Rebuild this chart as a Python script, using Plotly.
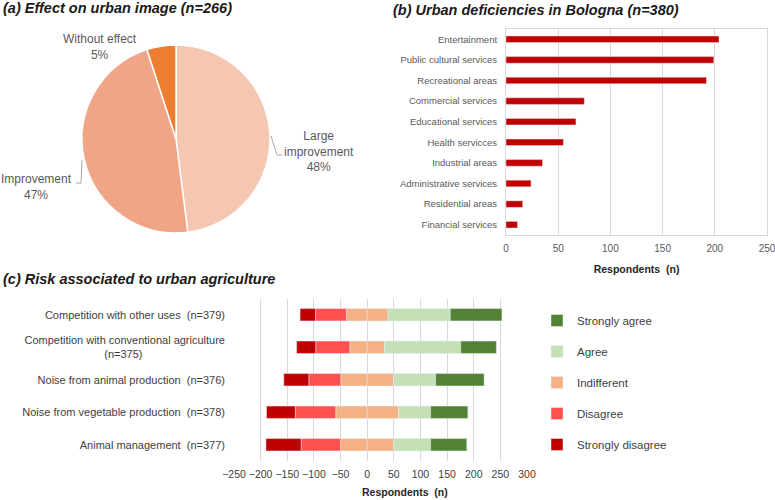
import plotly.graph_objects as go

# ---------------- data ----------------
# (a) Effect on urban image
pie_labels = ["Large improvement", "Improvement", "Without effect"]
pie_values = [48, 47, 5]
pie_colors = ["#F5C6B2", "#EFA586", "#ED7D31"]

# (b) Urban deficiencies in Bologna
def_categories = ["Entertainment", "Public cultural services", "Recreational areas",
                  "Commercial services", "Educational services", "Health servicces",
                  "Industrial areas", "Administrative services", "Residential areas",
                  "Financial services"]
def_values = [204, 199, 192, 75, 67, 55, 35, 24, 16, 11]

# (c) Risk associated to urban agriculture
NB = "\u00a0"
risk_categories = ["Competition with other uses" + NB * 2 + "(n=379)",
                   "Competition with conventional agriculture<br>(n=375)" + NB * 27,
                   "Noise from animal production" + NB * 2 + "(n=376)",
                   "Noise from vegetable production" + NB * 2 + "(n=378)",
                   "Animal management" + NB * 2 + "(n=377)"]
strongly_disagree = [29, 36, 47, 54, 66]
disagree = [58, 64, 60, 76, 74]
indifferent = [78, 65, 99, 118, 100]
agree = [117, 143, 79, 60, 69]
strongly_agree = [97, 67, 91, 70, 68]

c_sd, c_d, c_i, c_a, c_sa = "#C00000", "#FF5050", "#F4B183", "#C5E0B4", "#548235"

W, H = 775, 500
def px(x):
    return x / W
def py(y):
    return 1 - y / H

FONT = "Liberation Sans, Arial, sans-serif"

fig = go.Figure()

# (a) pie
fig.add_trace(go.Pie(
    labels=pie_labels, values=pie_values, sort=False, direction="clockwise",
    marker=dict(colors=pie_colors, line=dict(color="white", width=1.5)),
    textinfo="none", showlegend=False, hoverinfo="label+percent",
    domain=dict(x=[px(82), px(270)], y=[py(233), py(45)]),
))

# (b) horizontal bars
fig.add_trace(go.Bar(
    x=def_values, y=def_categories, orientation="h", marker_color="#C00000",
    width=0.32, showlegend=False, xaxis="x", yaxis="y",
))

# (c) diverging stacked bars
fig.add_trace(go.Bar(x=[-v / 2 for v in indifferent], y=risk_categories, orientation="h",
                     marker_color=c_i, width=0.38, name="Indifferent", showlegend=False,
                     legendgroup="i", legendrank=3, xaxis="x2", yaxis="y2"))
fig.add_trace(go.Bar(x=[-v for v in disagree], y=risk_categories, orientation="h",
                     marker_color=c_d, width=0.38, name="Disagree",
                     legendgroup="d", legendrank=4, xaxis="x2", yaxis="y2"))
fig.add_trace(go.Bar(x=[-v for v in strongly_disagree], y=risk_categories, orientation="h",
                     marker_color=c_sd, width=0.38, name="Strongly disagree",
                     legendgroup="sd", legendrank=5, xaxis="x2", yaxis="y2"))
fig.add_trace(go.Bar(x=[v / 2 for v in indifferent], y=risk_categories, orientation="h",
                     marker_color=c_i, width=0.38, name="Indifferent",
                     legendgroup="i", legendrank=3, xaxis="x2", yaxis="y2"))
fig.add_trace(go.Bar(x=agree, y=risk_categories, orientation="h",
                     marker_color=c_a, width=0.38, name="Agree",
                     legendgroup="a", legendrank=2, xaxis="x2", yaxis="y2"))
fig.add_trace(go.Bar(x=strongly_agree, y=risk_categories, orientation="h",
                     marker_color=c_sa, width=0.38, name="Strongly agree",
                     legendgroup="sa", legendrank=1, xaxis="x2", yaxis="y2"))

grid = "#D9D9D9"
fig.update_layout(
    width=W, height=H, margin=dict(l=0, r=0, t=0, b=0, autoexpand=False),
    paper_bgcolor="white", plot_bgcolor="white",
    barmode="relative",
    font=dict(family=FONT, size=11, color="#404040"),
    xaxis=dict(domain=[px(506), px(767)], range=[0, 250], dtick=50, anchor="y",
               automargin=False, ticklabeloverflow="allow",
               showgrid=True, gridcolor=grid, gridwidth=1, zeroline=False,
               showline=True, linecolor=grid, mirror=True,
               tickfont=dict(size=10, color="#595959"), ticks="", tickangle=0,
               ticklabelstandoff=4,
               title=dict(text="<b>Respondents  (n)</b>", font=dict(size=10.5, color="#262626"),
                          standoff=12)),
    yaxis=dict(domain=[py(235), py(29)], autorange="reversed", anchor="x",
               automargin=False,
               showline=True, linecolor=grid, mirror=True, showgrid=False,
               tickfont=dict(size=9.5, color="#595959"), ticks="", ticklabelstandoff=6),
    xaxis2=dict(domain=[px(234), px(527)], range=[-250, 300], dtick=50, anchor="y2",
                automargin=False, ticklabeloverflow="allow",
                showgrid=True, gridcolor=grid, gridwidth=1, zeroline=True,
                zerolinecolor=grid, zerolinewidth=1, showline=False, tickangle=0,
                tickfont=dict(size=10.5, color="#404040"), ticks="", ticklabelstandoff=5),
    yaxis2=dict(domain=[py(461), py(298.5)], autorange="reversed", anchor="x2",
                automargin=False,
                showgrid=False, showline=False,
                tickfont=dict(size=11, color="#404040"), ticks="", ticklabelstandoff=8),
    legend=dict(x=px(537), y=py(306), xanchor="left", yanchor="top",
                traceorder="grouped", tracegroupgap=12,
                font=dict(size=11.5, color="#404040"), itemwidth=30,
                bgcolor="rgba(0,0,0,0)"),
)

# Titles
titles = [
    ("(a) Effect on urban image (n=266)", 1, 8),
    ("(b) Urban deficiencies in Bologna (n=380)", 391, 10),
    ("(c) Risk associated to urban agriculture", 1, 279),
]
for t, x0, y0 in titles:
    fig.add_annotation(text="<b><i>" + t + "</i></b>", x=px(x0), y=py(y0), xref="paper", yref="paper",
                       xanchor="left", yanchor="middle", showarrow=False,
                       font=dict(family=FONT, size=14.5, color="#1a1a1a"))

# x-axis title for (c)
fig.add_annotation(text="<b>Respondents  (n)</b>", x=px(405), y=py(492), xref="paper", yref="paper",
                   xanchor="center", yanchor="middle", showarrow=False,
                   font=dict(size=10.5, color="#262626"))

# Pie labels
pie_label_text = [
    ("Large<br>improvement<br>" + f"{pie_values[0]}%", 319, 151),
    (pie_labels[1] + "<br>" + f"{pie_values[1]}%", 36, 187),
    (pie_labels[2] + "<br>" + f"{pie_values[2]}%", 100, 47),
]
for t, x0, y0 in pie_label_text:
    fig.add_annotation(text=t, x=px(x0), y=py(y0), xref="paper", yref="paper",
                       xanchor="center", yanchor="middle", showarrow=False, align="center",
                       font=dict(size=12, color="#595959"))

# leader lines
fig.add_shape(type="path", xref="paper", yref="paper",
              path=f"M {px(271)} {py(136)} L {px(277)} {py(155)} L {px(282)} {py(155)}",
              line=dict(color="#A6A6A6", width=1))
fig.add_shape(type="path", xref="paper", yref="paper",
              path=f"M {px(82)} {py(160)} L {px(81)} {py(183)} L {px(76)} {py(183)}",
              line=dict(color="#A6A6A6", width=1))

fig.write_html("out.html", config={"displayModeBar": False},
               post_script="document.body.style.margin='0';document.body.style.overflow='hidden';")
